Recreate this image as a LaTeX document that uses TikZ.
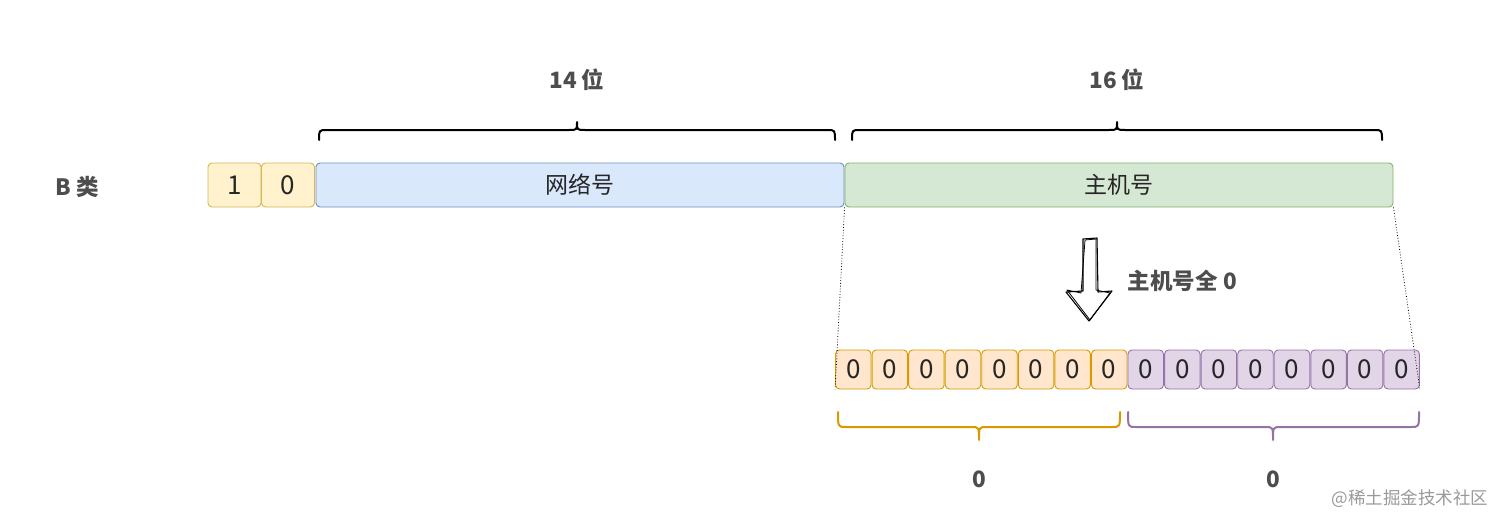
\documentclass[tikz,border=0pt]{standalone}
\usepackage{fontspec}
\setmainfont{Noto Sans CJK SC}
\begin{document}
\begin{tikzpicture}[x=1pt,y=-1pt,
  cell/.style={draw, rounded corners=4pt, line width=0.9pt, inner sep=0pt, text=black!85, font=\fontsize{23}{25}\selectfont},
  digit/.style={font=\fontsize{26}{28}\selectfont},
  yel/.style={cell, digit, fill=yellowFill, draw=yellowLine},
  org/.style={cell, digit, fill=orangeFill, draw=orangeLine},
  pur/.style={cell, digit, fill=purpleFill, draw=purpleLine},
  lbl/.style={text=labelGray, font=\bfseries\fontsize{22.5}{25}\selectfont},
  brace/.style={line width=2pt, line cap=round, line join=round}]
\definecolor{yellowFill}{HTML}{FFF2CC}
\definecolor{yellowLine}{HTML}{D6B656}
\definecolor{blueFill}{HTML}{DAE8FC}
\definecolor{blueLine}{HTML}{6C8EBF}
\definecolor{greenFill}{HTML}{D5E8D4}
\definecolor{greenLine}{HTML}{82B366}
\definecolor{orangeFill}{HTML}{FFE6CC}
\definecolor{orangeLine}{HTML}{D79B00}
\definecolor{purpleFill}{HTML}{E1D5E7}
\definecolor{purpleLine}{HTML}{9673A6}
\definecolor{labelGray}{HTML}{4D4D4D}
\useasboundingbox (0,0) rectangle (1508,527);

% label B
\node[lbl] (b) at (77,187) {B\hspace{5pt}类};

% top row boxes
\node[yel, minimum width=53pt, minimum height=44pt] (one) at (234.5,185) {1};
\node[yel, minimum width=53pt, minimum height=44pt] (zero) at (288,185) {0};
\node[cell, fill=blueFill, draw=blueLine, minimum width=528pt, minimum height=44pt] (net) at (580,185) {网络号};
\node[cell, fill=greenFill, draw=greenLine, minimum width=548pt, minimum height=44pt] (host) at (1119,185) {主机号};

% top braces
\coordinate (t1a) at (319,140); \coordinate (t1b) at (835,140);
\draw[brace] (t1a) .. controls (319,130) .. (327,130) -- (569,130) .. controls (577,130) .. (577,122)
  .. controls (577,130) .. (585,130) -- (827,130) .. controls (835,130) .. (t1b);
\node[lbl] (l14) at (577,80) {14\hspace{5pt}位};
\coordinate (t2a) at (852,140); \coordinate (t2b) at (1382,140);
\draw[brace] (t2a) .. controls (852,130) .. (860,130) -- (1109,130) .. controls (1117,130) .. (1117,122)
  .. controls (1117,130) .. (1125,130) -- (1374,130) .. controls (1382,130) .. (t2b);
\node[lbl] (l16) at (1117,80) {16\hspace{5pt}位};

% bottom cells
\foreach \i in {0,...,7} {
  \node[org, minimum width=35.5pt, minimum height=39pt] (c\i) at ({835+36.56*\i+18.28},369.5) {0};
}
\foreach \i in {8,...,15} {
  \node[pur, minimum width=35.5pt, minimum height=39pt] (c\i) at ({835+36.56*\i+18.28},369.5) {0};
}

% dotted guides
\draw[dotted, line width=0.8pt] (host.south west) -- (c0.south west);
\draw[dotted, line width=0.8pt] (host.south east) -- (c15.south east);

% sketchy hollow arrow
\coordinate (atip) at (1089,321);
\draw[line width=1.1pt, line join=round] (1083,239) -- (1097,238) -- (1098,292) -- (1112,291) -- (atip) -- (1066,292) -- (1083,291) -- cycle;
\draw[line width=0.8pt, line join=round] (1085,240) -- (1096,239) -- (1096,290) -- (1110,293) -- (1090,320) -- (1067,290) -- (1081,293) -- cycle;
\node[lbl, anchor=west] (allzero) at (1124,281) {主机号全\hspace{6pt}0};

% bottom braces
\coordinate (b1a) at (838,412); \coordinate (b1b) at (1120,412);
\draw[brace, draw=orangeLine] (b1a) .. controls (838,427) .. (846,427) -- (971,427) .. controls (979,427) .. (979,440)
  .. controls (979,427) .. (987,427) -- (1112,427) .. controls (1120,427) .. (b1b);
\node[lbl] (z1) at (979,479) {0};
\coordinate (b2a) at (1128,412); \coordinate (b2b) at (1419,412);
\draw[brace, draw=purpleLine] (b2a) .. controls (1128,427) .. (1136,427) -- (1265,427) .. controls (1273,427) .. (1273,440)
  .. controls (1273,427) .. (1281,427) -- (1411,427) .. controls (1419,427) .. (b2b);
\node[lbl] (z2) at (1273,479) {0};

% watermark
\node[text=black!40, font=\fontsize{17.5}{20}\selectfont, anchor=east] (wm) at (1492,499) {@稀土掘金技术社区};
\end{tikzpicture}
\end{document}
